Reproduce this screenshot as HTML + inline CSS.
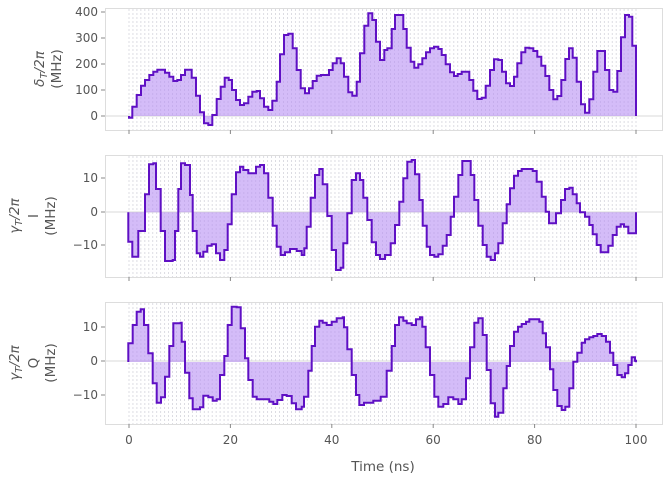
<!DOCTYPE html>
<html><head><meta charset="utf-8"><style>
html,body{margin:0;padding:0;background:#fff;}
svg{display:block;font-family:"DejaVu Sans","Liberation Sans",sans-serif;}
.t{fill:#555;font-size:12px;}
.yl{fill:#555;font-size:13.5px;}
</style></head><body>
<svg id="s" width="668" height="480" viewBox="0 0 668 480">
<g id="grid"></g>
<g stroke="#ddd" fill="none" stroke-width="1">
<rect x="105.5" y="8.5" width="557" height="122"/>
<rect x="105.5" y="155.5" width="557" height="122"/>
<rect x="105.5" y="302.5" width="557" height="122"/>
</g>
<g id="series"></g>
<g stroke="#888" stroke-width="1">
<line x1="101" x2="105" y1="116" y2="116"/><line x1="101" x2="105" y1="90" y2="90"/><line x1="101" x2="105" y1="64" y2="64"/><line x1="101" x2="105" y1="38" y2="38"/><line x1="101" x2="105" y1="12" y2="12"/>
<line x1="101" x2="105" y1="245" y2="245"/><line x1="101" x2="105" y1="212" y2="212"/><line x1="101" x2="105" y1="178" y2="178"/>
<line x1="101" x2="105" y1="395" y2="395"/><line x1="101" x2="105" y1="361" y2="361"/><line x1="101" x2="105" y1="327" y2="327"/>
</g>
<g id="xt" stroke="#888" stroke-width="1"></g>
<g class="t" text-anchor="end">
<text x="98" y="120">0</text><text x="98" y="94">100</text><text x="98" y="68">200</text><text x="98" y="42">300</text><text x="98" y="16">400</text>
<text x="98" y="249">−10</text><text x="98" y="216">0</text><text x="98" y="182">10</text>
<text x="98" y="399">−10</text><text x="98" y="365">0</text><text x="98" y="331">10</text>
</g>
<g class="t" text-anchor="middle">
<text x="129" y="444">0</text><text x="230.4" y="444">20</text><text x="331.8" y="444">40</text><text x="433.2" y="444">60</text><text x="534.6" y="444">80</text><text x="636" y="444">100</text>
</g>
<text x="383" y="471" class="yl" text-anchor="middle">Time (ns)</text>
<g class="yl" text-anchor="middle">
<text transform="translate(44,69) rotate(-90)"><tspan font-style="italic">δ</tspan><tspan font-size="10" dy="3" font-style="italic">T</tspan><tspan dy="-3" font-style="italic">/2π</tspan></text>
<text transform="translate(61,69) rotate(-90)">(MHz)</text>
<text transform="translate(19,216) rotate(-90)"><tspan font-style="italic">γ</tspan><tspan font-size="10" dy="3" font-style="italic">T</tspan><tspan dy="-3" font-style="italic">/2π</tspan></text>
<text transform="translate(38,216) rotate(-90)">I</text>
<text transform="translate(55,216) rotate(-90)">(MHz)</text>
<text transform="translate(19,363) rotate(-90)"><tspan font-style="italic">γ</tspan><tspan font-size="10" dy="3" font-style="italic">T</tspan><tspan dy="-3" font-style="italic">/2π</tspan></text>
<text transform="translate(38,363) rotate(-90)">Q</text>
<text transform="translate(55,363) rotate(-90)">(MHz)</text>
</g>
</svg>
<script>
var NS="http://www.w3.org/2000/svg";
function el(p,n,a){var e=document.createElementNS(NS,n);for(var k in a)e.setAttribute(k,a[k]);p.appendChild(e);return e;}
var grid=document.getElementById('grid');
var panels=[[9,130,116],[156,277,212],[303,424,361]];
panels.forEach(function(p){
  for(var i=0;i<=128;i++){var x=129+i*507/128;el(grid,'line',{x1:x,x2:x,y1:p[0],y2:p[1],stroke:'#d4d4dc','stroke-width':0.8,'stroke-dasharray':'2,2'});}
  el(grid,'line',{x1:106,x2:662,y1:p[2],y2:p[2],stroke:'#d8d8d8','stroke-width':1});
});
var xt=document.getElementById('xt');
[130,277,424].forEach(function(y){for(var k=0;k<=5;k++){var x=129+k*101.4;el(xt,'line',{x1:x,x2:x,y1:y,y2:y+4});}});
function conv(arr,x0,y0,minx){var o=[];arr.forEach(function(p){var x=x0+p[0]/3;if(minx!==undefined&&x<minx)return;o.push([x,y0+p[1]/3]);});return o;}
var p1=conv([[27,338],[37,305],[50,270],[63,242],[75,225],[88,210],[100,200],[112,194],[135,203],[148,215],[160,228],[172,225],[183,210],[195,194],[215,218],[228,272],[240,322],[252,355],[265,360],[277,330],[290,282],[302,245],[314,218],[326,225],[336,255],[348,285],[360,300],[372,295],[385,275],[397,260],[410,258],[420,280],[432,305],[445,315],[457,287],[470,230],[480,148],[492,90],[505,86],[518,130],[530,195],[542,250],[555,265],[567,250],[578,228],[590,212],[603,210],[627,195],[638,175],[650,160],[662,175],[672,215],[685,262],[697,272],[710,230],[720,145],[733,62],[745,25],[757,45],[768,110],[780,165],[793,135]],120,5)
.concat(conv([[22,130],[35,72],[45,30],[70,72],[80,128],[92,170],[103,188],[115,178],[127,160],[138,142],[150,130],[162,125],[175,132],[185,150],[197,178],[210,202],[222,213],[233,207],[245,200],[268,225],[280,257],[292,282],[305,278],[317,242],[330,195],[342,163],[355,165],[366,200],[378,235],[390,243],[402,215],[412,175],[424,142],[436,128],[448,130],[460,138],[472,155],[484,182],[496,213],[508,255],[520,283],[532,273],[544,225],[556,162],[567,130],[578,158],[590,230],[603,298],[615,323],[628,283],[640,200],[652,138],[675,195],[688,255],[700,260],[712,198],[723,97],[735,30],[747,35],[757,122],[768,330]],380,5));
var p2=conv([[25,260],[37,305],[55,228],[75,118],[87,28],[100,25],[108,102],[122,228],[135,318],[158,315],[165,228],[175,102],[183,25],[195,30],[210,120],[218,228],[230,295],[240,305],[250,290],[262,272],[275,268],[288,295],[300,315],[313,285],[323,208],[335,118],[348,52],[360,35],[370,45],[385,55],[408,35],[420,30],[432,55],[445,128],[458,212],[470,275],[482,300],[495,292],[510,282],[530,288],[545,300],[553,280],[560,215],[572,128],[585,60],[598,42],[608,88],[622,183],[635,285],[648,345],[662,338],[670,265],[682,175],[695,75],[708,55],[720,75],[730,128],[742,195],[755,262],[768,300],[780,312],[795,300]],120,155)
.concat(conv([[32,265],[45,210],[58,140],[70,70],[82,20],[95,15],[105,58],[118,135],[128,212],[140,275],[150,300],[163,305],[175,298],[188,272],[200,240],[212,185],[222,125],[235,60],[247,18],[268,18],[272,60],[283,135],[295,212],[308,270],[320,305],[332,315],[345,295],[355,265],[368,205],[380,148],[390,100],[402,62],[414,48],[425,42],[445,42],[458,48],[470,80],[485,125],[497,170],[507,205],[528,175],[543,135],[555,102],[568,98],[578,118],[590,145],[600,172],[615,185],[628,210],[638,238],[650,270],[662,292],[685,272],[698,240],[710,215],[722,208],[732,215],[745,235],[768,172]],380,155));
var p3=conv([[25,130],[38,75],[50,35],[62,28],[72,75],[85,160],[98,250],[110,308],[123,292],[135,230],[148,138],[160,70],[182,68],[185,125],[195,218],[208,295],[218,328],[240,322],[250,287],[265,292],[278,302],[290,298],[300,225],[313,168],[323,75],[335,20],[350,22],[362,85],[375,175],[385,240],[398,290],[410,298],[435,298],[448,305],[460,312],[472,300],[487,285],[500,288],[515,310],[528,328],[545,320],[552,290],[565,212],[575,138],[585,80],[598,62],[608,68],[620,75],[635,65],[650,55],[668,52],[672,82],[682,148],[695,225],[708,285],[718,315],[732,308],[760,302],[782,290],[800,212]],120,300)
.concat(conv([[35,138],[45,75],[57,52],[70,62],[80,70],[95,75],[108,58],[120,52],[127,80],[137,142],[150,225],[163,290],[175,320],[190,312],[205,292],[220,298],[235,312],[245,298],[258,235],[270,142],[283,68],[295,55],[308,105],[320,210],[332,310],[345,350],[355,338],[370,265],[380,198],[390,138],[402,95],[414,80],[425,72],[438,65],[448,58],[465,58],[478,65],[488,100],[498,142],[510,208],[520,270],[532,318],[545,330],[556,320],[568,265],[580,185],[592,158],[605,128],[615,118],[628,112],[640,108],[652,102],[665,108],[678,125],[690,158],[700,195],[712,225],[725,232],[735,220],[745,195],[755,172],[765,182],[768,187]],380,300));
var S=document.getElementById('series');
function draw(pts,base){
  var d='M'+pts[0][0].toFixed(1)+','+base.toFixed(1);
  for(var i=0;i<pts.length;i++){
    d+=' V'+pts[i][1].toFixed(1);
    if(i<pts.length-1)d+=' H'+pts[i+1][0].toFixed(1);
  }
  d+=' V'+base.toFixed(1);
  el(S,'path',{d:d+' Z',fill:'#b890f4','fill-opacity':0.6,stroke:'none'});
  el(S,'path',{d:d,fill:'none',stroke:'#5f10c4','stroke-width':2,'stroke-linejoin':'miter'});
}
draw(p1,116);draw(p2,212.3);draw(p3,362);
</script>
</body></html>
